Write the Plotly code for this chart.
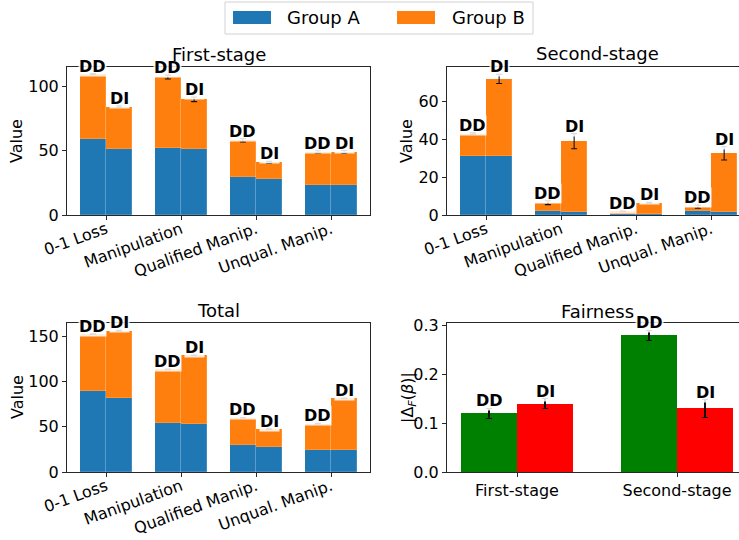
import plotly.graph_objects as go

# ---- data -------------------------------------------------------------
categories = ["0-1 Loss", "Manipulation", "Qualified Manip.", "Unqual. Manip."]
methods = ["DD", "DI"]

# First-stage (group A / group B stacked), per method
first_a_dd = [59.0, 52.2, 29.6, 23.1]
first_b_dd = [50.6, 55.3, 28.6, 26.0]
first_a_di = [51.4, 51.4, 28.0, 23.3]
first_b_di = [33.0, 38.7, 13.0, 25.8]
first_err_dd = [0.5, 1.5, 1.3, 0.9]
first_err_di = [0.6, 1.8, 0.8, 1.1]

# Second-stage
second_a_dd = [31.2, 2.1, 0.7, 2.1]
second_b_dd = [11.8, 4.4, 1.2, 2.3]
second_a_di = [31.0, 1.4, 0.5, 1.4]
second_b_di = [40.9, 37.6, 6.0, 31.2]
second_err_dd = [0.4, 1.0, 0.2, 0.8]
second_err_di = [2.4, 4.0, 0.2, 3.5]

# Total
total_a_dd = [90.0, 54.2, 30.0, 24.8]
total_b_dd = [62.5, 59.3, 30.0, 28.7]
total_a_di = [82.2, 52.6, 27.8, 24.8]
total_b_di = [74.0, 76.4, 19.6, 56.7]
total_err_dd = [0.4, 0.4, 0.3, 0.3]
total_err_di = [0.4, 0.4, 0.3, 0.3]

# Fairness |Delta_F(beta)|
fair_stages = ["First-stage", "Second-stage"]
fair_dd = [0.12, 0.28]
fair_di = [0.14, 0.13]
fair_err_dd = [0.010, 0.010]
fair_err_di = [0.010, 0.018]

# ---- styling ----------------------------------------------------------
W, H = 739, 540
BLUE, ORANGE = "#1f77b4", "#ff7f0e"
GREEN, RED = "#008000", "#ff0000"
FONT = "DejaVu Sans"
AX_COLOR = "rgb(40,40,40)"
BAR_W = 0.35
OFF = 0.175


def px_x(p):
    return p / W


def px_y(p):
    return 1 - p / H


fig = go.Figure()
annotations = []
BAR_EDGE = dict(color="rgba(255,255,255,0.3)", width=0.5)


def stacked_panel(n, a_dd, b_dd, a_di, b_di, e_dd, e_di):
    xa = "x" if n == 1 else f"x{n}"
    ya = "y" if n == 1 else f"y{n}"
    xs_dd = [i - OFF for i in range(len(categories))]
    xs_di = [i + OFF for i in range(len(categories))]
    xs = xs_dd + xs_di
    a_vals = a_dd + a_di
    b_vals = b_dd + b_di
    fig.add_trace(go.Bar(x=xs, y=a_vals, width=BAR_W, marker=dict(color=BLUE, line=BAR_EDGE),
                         xaxis=xa, yaxis=ya, showlegend=False, name="Group A"))
    fig.add_trace(go.Bar(x=xs, y=b_vals, width=BAR_W, marker=dict(color=ORANGE, line=BAR_EDGE),
                         xaxis=xa, yaxis=ya, showlegend=False, name="Group B"))
    tops = [a + b for a, b in zip(a_vals, b_vals)]
    errs = e_dd + e_di
    fig.add_trace(go.Scatter(x=xs, y=tops, mode="markers", marker=dict(opacity=0, size=1),
                             error_y=dict(type="data", array=errs, visible=True,
                                          color="#111", thickness=1.1, width=3),
                             xaxis=xa, yaxis=ya, showlegend=False, hoverinfo="skip"))
    labels = ["DD"] * len(xs_dd) + ["DI"] * len(xs_di)
    for x, t, e, lab in zip(xs, tops, errs, labels):
        annotations.append(dict(x=x, y=t + e, xref=xa, yref=ya, text=f"<b>{lab}</b>",
                                showarrow=False, yanchor="bottom", xanchor="center",
                                yshift=-3, bgcolor="rgba(255,255,255,0.85)", borderpad=0,
                                font=dict(family=FONT, size=16, color="black")))


stacked_panel(1, first_a_dd, first_b_dd, first_a_di, first_b_di, first_err_dd, first_err_di)
stacked_panel(2, second_a_dd, second_b_dd, second_a_di, second_b_di, second_err_dd, second_err_di)
stacked_panel(3, total_a_dd, total_b_dd, total_a_di, total_b_di, total_err_dd, total_err_di)

# Fairness panel
fx_dd = [i - OFF for i in range(len(fair_stages))]
fx_di = [i + OFF for i in range(len(fair_stages))]
fig.add_trace(go.Bar(x=fx_dd, y=fair_dd, width=BAR_W, marker=dict(color=GREEN),
                     error_y=dict(type="data", array=fair_err_dd, color="#111", thickness=1.1, width=3),
                     xaxis="x4", yaxis="y4", showlegend=False, name="DD"))
fig.add_trace(go.Bar(x=fx_di, y=fair_di, width=BAR_W, marker=dict(color=RED),
                     error_y=dict(type="data", array=fair_err_di, color="#111", thickness=1.1, width=3),
                     xaxis="x4", yaxis="y4", showlegend=False, name="DI"))
for xs, vals, errs, lab in [(fx_dd, fair_dd, fair_err_dd, "DD"), (fx_di, fair_di, fair_err_di, "DI")]:
    for x, v, e in zip(xs, vals, errs):
        annotations.append(dict(x=x, y=v + e, xref="x4", yref="y4", text=f"<b>{lab}</b>",
                                showarrow=False, yanchor="bottom", xanchor="center",
                                yshift=-3, bgcolor="rgba(255,255,255,0.85)", borderpad=0,
                                font=dict(family=FONT, size=16, color="black")))

# ---- axes geometry (pixel based) ---------------------------------------
LEFT_DOM = [px_x(67), px_x(370)]
RIGHT_DOM = [px_x(447), 1.0]
TOP_DOM = [px_y(215), px_y(67)]
BOT_DOM = [px_y(472), px_y(323)]

tickfont = dict(family=FONT, size=16, color="black")


def xaxis(domain, rng, anchor, tickvals, ticktext, angle, mirror, standoff=0):
    return dict(domain=domain, range=rng, anchor=anchor, tickmode="array",
                tickvals=tickvals, ticktext=ticktext, tickangle=angle, automargin=False,
                showgrid=False, zeroline=False, showline=True, linecolor=AX_COLOR,
                linewidth=1, mirror=mirror, ticks="outside", ticklen=4,
                ticklabelstandoff=standoff,
                tickcolor=AX_COLOR, tickfont=tickfont, fixedrange=True)


def yaxis(domain, rng, anchor, dtick, fmt, mirror):
    return dict(domain=domain, range=rng, anchor=anchor, dtick=dtick, tick0=0,
                tickformat=fmt, showgrid=False, zeroline=False, showline=True,
                automargin=False, linecolor=AX_COLOR, linewidth=1, mirror=mirror,
                ticks="outside", ticklen=4, tickcolor=AX_COLOR, tickfont=tickfont,
                fixedrange=True)


cat_idx = list(range(len(categories)))
fig.update_layout(
    xaxis=xaxis(LEFT_DOM, [-0.52, 3.52], "y", cat_idx, categories, -20, True, -6),
    yaxis=yaxis(TOP_DOM, [0, 115.3], "x", 50, "d", True),
    xaxis2=xaxis(RIGHT_DOM, [-0.52, 3.373], "y2", cat_idx, categories, -20, True, -6),
    yaxis2=yaxis(TOP_DOM, [0, 78.2], "x2", 20, "d", False),
    xaxis3=xaxis(LEFT_DOM, [-0.52, 3.52], "y3", cat_idx, categories, -20, True, -6),
    yaxis3=yaxis(BOT_DOM, [0, 164.8], "x3", 50, "d", True),
    xaxis4=xaxis(RIGHT_DOM, [-0.4375, 1.3875], "y4", [0, 1], fair_stages, 0, True),
    yaxis4=yaxis(BOT_DOM, [0, 0.305], "x4", 0.1, ".1f", False),
)

# subplot titles
for text, cx, top in [("First-stage", 218.5, 67), ("Second-stage", 597, 66),
                      ("Total", 218.5, 323), ("Fairness", 597, 324)]:
    annotations.append(dict(x=px_x(cx), y=px_y(top), xref="paper", yref="paper", text=text,
                            showarrow=False, xanchor="center", yanchor="bottom", yshift=0,
                            font=dict(family=FONT, size=18, color="black")))

# y-axis titles
for text, cx, cy in [("Value", 17, 141), ("Value", 407, 141), ("Value", 17, 397),
                     ("|Δ<sub><i>F</i></sub>(<i>β</i>)|", 408, 398)]:
    annotations.append(dict(x=px_x(cx), y=px_y(cy), xref="paper", yref="paper", text=text,
                            showarrow=False, xanchor="center", yanchor="middle", textangle=-90,
                            font=dict(family=FONT, size=16, color="black")))

# legend (drawn as patches + labels)
shapes = [dict(type="rect", xref="paper", yref="paper", x0=px_x(225), x1=px_x(533),
               y0=px_y(34), y1=px_y(2), line=dict(color="rgb(210,210,210)", width=1),
               fillcolor="white", layer="below")]
for color, label, x0, tx in [(BLUE, "Group A", 233, 285), (ORANGE, "Group B", 397, 450)]:
    shapes.append(dict(type="rect", xref="paper", yref="paper", x0=px_x(x0), x1=px_x(x0 + 38),
                       y0=px_y(24), y1=px_y(11), line=dict(width=0), fillcolor=color))
    annotations.append(dict(x=px_x(tx), y=px_y(17.5), xref="paper", yref="paper", text=label,
                            showarrow=False, xanchor="left", yanchor="middle",
                            font=dict(family=FONT, size=18, color="black")))

fig.update_layout(
    template="none",
    width=W, height=H, margin=dict(l=0, r=0, t=0, b=0, autoexpand=False),
    paper_bgcolor="white", plot_bgcolor="white",
    barmode="stack", bargap=0, showlegend=False,
    annotations=annotations, shapes=shapes,
    font=dict(family=FONT, size=16, color="black"),
)

fig.write_html("out.html", config={"displayModeBar": False})
